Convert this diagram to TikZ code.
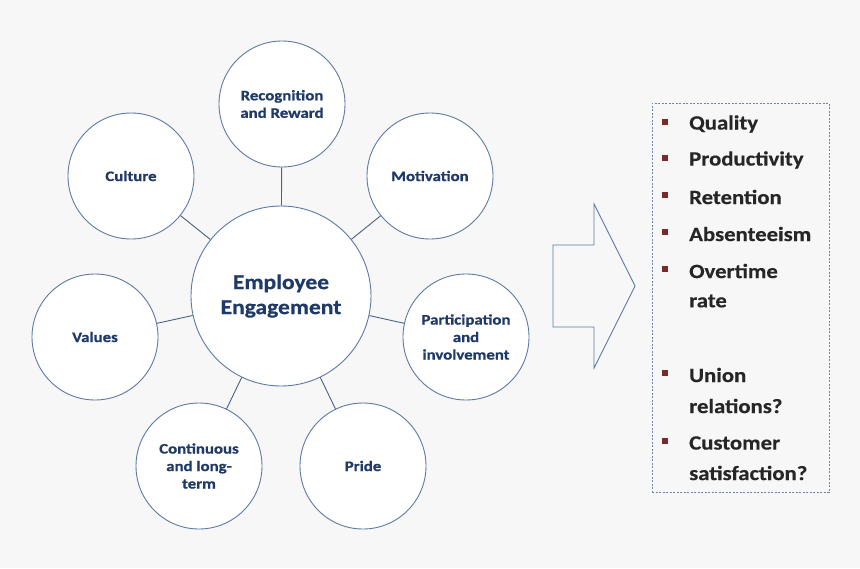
\documentclass[tikz,border=0pt]{standalone}
\usepackage{fontspec}
\setmainfont{Carlito}
\newfontfamily\widefont[FakeStretch=1.12,FakeBold=0.6]{Carlito}
\newfontfamily\listfont[FakeStretch=1.12,FakeBold=0.4]{Carlito}
\newfontfamily\widerfont[FakeStretch=1.16,FakeBold=0.8]{Carlito}
\definecolor{bg}{HTML}{F7F7F7}
\definecolor{ring}{HTML}{5B7AA6}
\definecolor{navy}{HTML}{1F3A68}
\definecolor{listtext}{HTML}{262626}
\definecolor{bulletred}{HTML}{7A2A2A}
\definecolor{dashblue}{HTML}{6A86B0}
\tikzset{
  small/.style={circle,draw=ring,fill=white,line width=0.9pt,minimum size=126pt,inner sep=0pt,
    align=center,text=navy,font=\widerfont\fontsize{14.5}{17.5}\selectfont\bfseries},
  big/.style={circle,draw=ring,fill=white,line width=0.9pt,minimum size=180pt,inner sep=0pt,
    align=center,text=navy,font=\widefont\fontsize{21}{25}\selectfont\bfseries},
  link/.style={draw=ring!80!black,line width=0.9pt},
  bul/.style={rectangle,fill=bulletred,minimum size=6pt,inner sep=0pt},
  item/.style={anchor=west,inner sep=0pt,text=listtext,font=\listfont\fontsize{20.3}{24}\selectfont\bfseries},
}
\begin{document}
\begin{tikzpicture}[x=1pt,y=-1pt]
\useasboundingbox[fill=bg] (0,0) rectangle (860,568);
\node[big] (ee) at (281,296) {Employee\\Engagement};
\node[small] (rr) at (282,104) {Recognition\\and Reward};
\node[small] (cu) at (131,176) {Culture};
\node[small] (mo) at (430,176) {Motivation};
\node[small] (va) at (95,337) {Values};
\node[small] (pa) at (466,337) {Participation\\and\\involvement};
\node[small] (co) at (199,466) {Continuous\\and long-\\term};
\node[small] (pr) at (363,466) {Pride};
\foreach \n in {rr,cu,mo,va,pa,co,pr} \draw[link] (ee) -- (\n);
% block arrow
\draw[draw=ring,line width=0.9pt,fill=bg] (553,245) -- (594,245) -- (594,204) -- (635,286)
  -- (594,368) -- (594,327) -- (553,327) -- cycle;
% dashed box
\node[draw=dashblue,dashed,line width=0.7pt,dash pattern=on 2pt off 1.5pt,minimum width=177pt,minimum height=389pt,inner sep=0pt] (box) at (740.5,297.5) {};
\foreach \y/\t in {124/Quality,160/Productivity,197/Retention,234/Absenteeism,271/Overtime,375/Union,443/Customer}{
  \node[bul] at (665,\y-2) {};
  \node[item] at (689,\y) {\t};
}
\node[item] at (689,301) {rate};
\node[item] at (689,406) {relations?};
\node[item] at (689,473) {satisfaction?};
\end{tikzpicture}
\end{document}
